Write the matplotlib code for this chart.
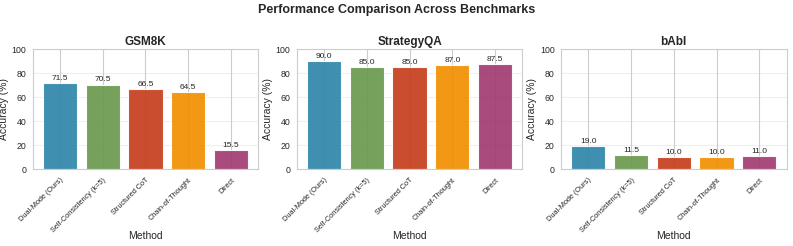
import numpy as np
import matplotlib.pyplot as plt
import seaborn as sns

sns.set_style('whitegrid')
plt.rcParams['font.family'] = ['Liberation Sans', 'DejaVu Sans']

# data
methods = ['Dual-Mode (Ours)', 'Self-Consistency (k=5)', 'Structured CoT',
           'Chain-of-Thought', 'Direct']
benchmarks = ['GSM8K', 'StrategyQA', 'bAbI']
gsm8k = [71.5, 70.5, 66.5, 64.5, 15.5]
strategyqa = [90.0, 85.0, 85.0, 87.0, 87.5]
babi = [19.0, 11.5, 10.0, 10.0, 11.0]
colors = ['#2E86AB', '#6A994E', '#C73E1D', '#F18F01', '#A23B72']

fig, axes = plt.subplots(1, 3, figsize=(7.93, 2.46), dpi=100)
fig.subplots_adjust(left=0.041, right=0.992, top=0.80, bottom=0.313, wspace=0.17)

for ax, name, vals in zip(axes, benchmarks, [gsm8k, strategyqa, babi]):
    x = np.arange(len(methods))
    bars = ax.bar(x, vals, color=colors, alpha=0.92, edgecolor='white', linewidth=0.8)
    for b, v in zip(bars, vals):
        ax.text(b.get_x() + b.get_width() / 2, v + 1, f'{v:.1f}',
                ha='center', va='bottom', fontsize=6)
    ax.set_title(name, fontsize=8.5, fontweight='bold', pad=3)
    ax.set_xlabel('Method', fontsize=7.5)
    ax.xaxis.set_label_coords(0.5, -0.52)
    ax.set_ylabel('Accuracy (%)', fontsize=7.5, labelpad=2)
    ax.set_xticks(x)
    ax.set_xticklabels(methods, rotation=45, ha='right', fontsize=5.3,
                       rotation_mode='anchor')
    ax.tick_params(axis='y', labelsize=6.3, pad=1)
    ax.tick_params(axis='x', pad=2)
    ax.set_ylim(0, 100)
    ax.grid(axis='y', alpha=0.3)
    for s in ax.spines.values():
        s.set_linewidth(0.8)

fig.suptitle('Performance Comparison Across Benchmarks', fontsize=9, fontweight='bold', y=0.985)
plt.savefig('out.png')
